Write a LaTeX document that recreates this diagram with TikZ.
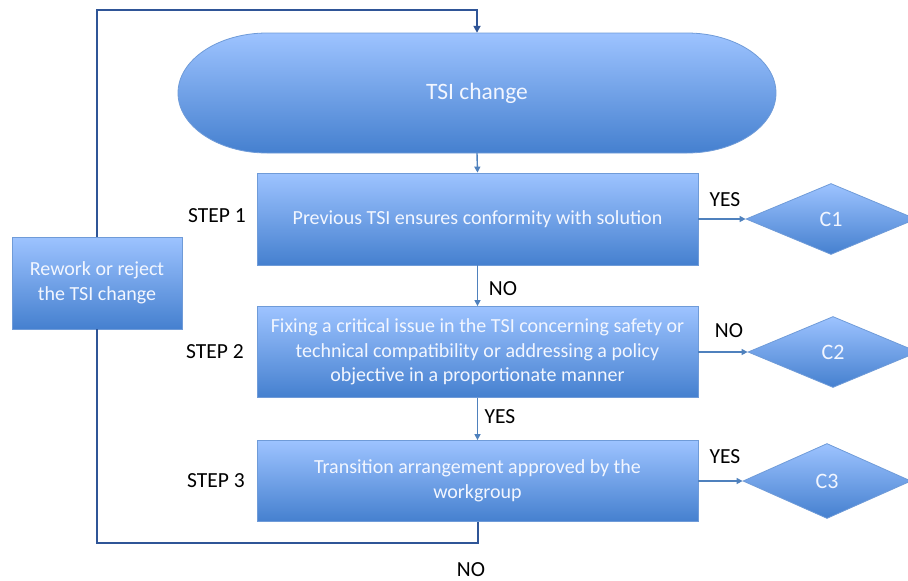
\documentclass[tikz,border=0pt]{standalone}
\usepackage{fontspec}
\setmainfont{Carlito}
\usetikzlibrary{arrows.meta,shapes.geometric}
\definecolor{boxtop}{HTML}{9DC3FF}
\definecolor{boxbot}{HTML}{4580CF}
\definecolor{boxedge}{HTML}{6F9BD8}
\definecolor{flowblue}{HTML}{4F81BD}
\definecolor{loopblue}{HTML}{2F5597}
\definecolor{boxtext}{HTML}{F2F6FF}
\begin{document}
\begin{tikzpicture}[x=1pt,y=-1pt,
  shadedbox/.style={draw=boxedge, line width=0.8pt, top color=boxtop, bottom color=boxbot,
    text=boxtext, font=\fontsize{20}{24.5}\selectfont, align=center, inner sep=0pt},
  stepbox/.style={shadedbox, rectangle, minimum width=441pt},
  decision/.style={shadedbox, diamond, aspect=2.3, font=\fontsize{22}{24}\selectfont},
  lbl/.style={text=black, font=\fontsize{21.5}{24}\selectfont, inner sep=0pt},
  flow/.style={draw=flowblue, line width=1.4pt, -{Triangle[length=6pt,width=6pt]}},
  loopline/.style={draw=loopblue, line width=2pt},
]
\useasboundingbox (0,0) rectangle (908,581);
% terminal
\node[minimum width=598pt, minimum height=120pt, inner sep=0pt] (tsi) at (477,93) {};
\path[draw=boxedge, line width=0.8pt, top color=boxtop, bottom color=boxbot]
  (267,33) -- (687,33) .. controls (736,33) and (776,60) .. (776,93)
  .. controls (776,126) and (736,153) .. (687,153) -- (267,153)
  .. controls (218,153) and (178,126) .. (178,93)
  .. controls (178,60) and (218,33) .. (267,33) -- cycle;
\node[text=boxtext, font=\fontsize{23.5}{26}\selectfont] at (tsi.center) {TSI change};
% steps
\node[stepbox, minimum height=92pt] (s1) at (477.5,219) {Previous TSI ensures conformity with solution};
\node[stepbox, minimum height=91pt] (s2) at (477.5,352) {Fixing a critical issue in the TSI concerning safety or\\technical compatibility or addressing a policy\\objective in a proportionate manner};
\node[stepbox, minimum height=81pt] (s3) at (477.5,481) {Transition arrangement approved by the\\workgroup};
% decisions
\node[decision, minimum width=170pt, minimum height=71pt] (c1) at (831,219) {C1};
\node[decision, minimum width=170pt, minimum height=71pt] (c2) at (833,352) {C2};
\node[decision, minimum width=168pt, minimum height=75pt] (c3) at (827,481) {C3};
% rework
\node[shadedbox, rectangle, minimum width=170pt, minimum height=92pt] (rw) at (97,283) {Rework or reject\\the TSI change};
% labels
\node[lbl] (l1) at (217,216) {STEP 1};
\node[lbl] (l2) at (215,352) {STEP 2};
\node[lbl] (l3) at (216,481) {STEP 3};
\node[lbl] (y1) at (725,200) {YES};
\node[lbl] (n1) at (503,289) {NO};
\node[lbl] (n2) at (729,331) {NO};
\node[lbl] (y2) at (500,417) {YES};
\node[lbl] (y3) at (725,457) {YES};
\node[lbl] (n3) at (471,570) {NO};
% connectors
\draw[flow] (tsi.south) -- (s1.north);
\draw[flow] (s1.south) -- (s2.north);
\draw[flow] (s2.south) -- (s3.north);
\draw[flow] (s1.east) -- (c1.west);
\draw[flow] (s2.east) -- (c2.west);
\draw[flow] (s3.east) -- (c3.west);
\coordinate (lb) at (97,543);
\coordinate (lt) at (97,10);
\draw[loopline] (s3.south) |- (lb) -- (rw.south);
\draw[loopline, -{Triangle[length=7pt,width=7pt]}] (rw.north) -- (lt) -| (tsi.north);
\end{tikzpicture}
\end{document}
